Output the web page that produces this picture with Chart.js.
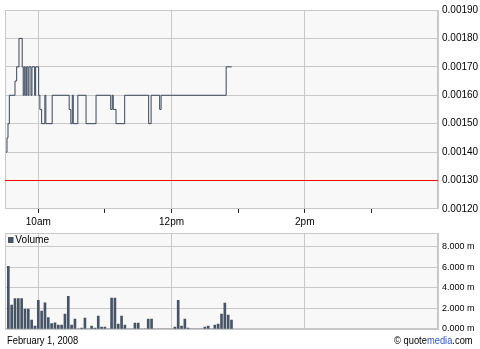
<!DOCTYPE html>
<html><head><meta charset="utf-8">
<script src="https://cdn.jsdelivr.net/npm/chart.js@4"></script>
<style>
html,body{margin:0;padding:0;background:#fff;width:480px;height:349px;overflow:hidden;font-family:"Liberation Sans",Arial,sans-serif;}
#c1{position:absolute;left:0;top:0;}
#c2{position:absolute;left:0;top:224px;}
.t{position:absolute;font-size:11px;color:#000;white-space:nowrap;line-height:11px;transform-origin:0 0;}
</style></head><body>
<canvas id="c1" width="480" height="228"></canvas>
<canvas id="c2" width="480" height="125"></canvas>
<div class="t" style="left:8px;top:234px;transform:scaleX(0.92)"><span style="display:inline-block;width:6px;height:6px;background:#475466;margin-right:2px;vertical-align:0px"></span>Volume</div>
<div class="t" style="left:7px;top:335px;transform:scaleX(0.85)">February 1, 2008</div>
<div class="t" style="left:394px;top:335px;transform:scaleX(0.85)">© quote<span style="color:#3355bb">media</span>.com</div>
<script>
// minutes since 9:30 where price changes, and the new price
const priceMinutes = [0.9,1.8,2.7,3.9,9.0,10.5,12.6,15.5,16.4,17.3,18.2,19.5,20.7,21.6,23.4,24.3,26.7,27.6,30.3,31.4,33.0,35.9,36.8,42.5,57.8,59.3,60.6,61.5,65.6,73.0,82.0,95.2,96.6,97.5,100.0,107.8,129.4,131.6,139.3,140.6,199.2,204.2];
const priceValues = [0.00140,0.00145,0.00150,0.00160,0.00165,0.00170,0.00180,0.00170,0.00160,0.00170,0.00160,0.00170,0.00160,0.00170,0.00160,0.00170,0.00160,0.00170,0.00160,0.00155,0.00150,0.00160,0.00150,0.00160,0.00155,0.00150,0.00160,0.00150,0.00160,0.00150,0.00160,0.00155,0.00160,0.00155,0.00150,0.00160,0.00150,0.00160,0.00155,0.00160,0.00170,0.00170];
const refLevel = 0.00130;
// volume (millions) per 3-minute interval, starting with the interval ending 9:33
const volumes = [6.1,2.32,2.97,2.97,2.97,1.94,1.94,0.87,0.29,2.8,1.74,2.55,1.1,0.52,0.61,0.39,0.39,1.45,3.19,0.39,0.97,0,0.1,1.06,0,0.29,0.1,1.26,0.19,0.19,0,3.0,3.0,0.48,1.26,0.39,0,0,0.58,0.58,0,0,0.97,0.97,0,0,0,0,0,0,0.19,2.8,0.29,0.97,0.1,0,0,0,0,0.19,0.29,0,0.39,0.48,1.45,2.52,1.35,0.87];
const hourTicks = [30,90,150,210,270,330];
const hourLabels = ['10am','','12pm','','2pm',''];
const majorHours = [30,150,270];
const priceTicks = [0.0012,0.0013,0.0014,0.0015,0.0016,0.0017,0.0018,0.0019];
const volTicks = [0,2,4,6,8];

const FAM = '"Liberation Sans",Arial,sans-serif';
const FONT = {family:FAM, size:10};
const VFONT = {family:FAM, size:9};
const GRID = '#c8c8c8';
const bgPlugin = {
  id:'bg',
  beforeDraw(chart){
    const {ctx, chartArea:a} = chart;
    ctx.save(); ctx.fillStyle = '#f8f8f8';
    ctx.fillRect(a.left, a.top, a.right-a.left, a.bottom-a.top); ctx.restore();
  },
  beforeDatasetsDraw(chart){
    const {ctx, chartArea:a} = chart;
    ctx.save(); ctx.strokeStyle = GRID; ctx.lineWidth = 1;
    ctx.strokeRect(Math.round(a.left)+0.5, Math.round(a.top)+0.5, Math.round(a.right-a.left)-1, Math.round(a.bottom-a.top)-1);
    ctx.restore();
  }
};
const xGridColor = c => (c.tick && majorHours.includes(c.tick.value)) ? GRID : 'rgba(0,0,0,0)';

new Chart(document.getElementById('c1'), {
  type:'line',
  data:{datasets:[
    {data: priceMinutes.map((m,i)=>({x:m, y:priceValues[i]})), stepped:'before', borderColor:'#3a475a', borderWidth:1, pointRadius:0, fill:false},
    {data:[{x:0,y:refLevel},{x:390,y:refLevel}], borderColor:'#ff0000', borderWidth:1, pointRadius:0, fill:false}
  ]},
  options:{
    responsive:false, animation:false, events:[],
    layout:{padding:{left:5, top:10, right:0, bottom:0}},
    plugins:{legend:{display:false}, tooltip:{enabled:false}},
    scales:{
      x:{type:'linear', min:0, max:390,
        afterBuildTicks: s => { s.ticks = hourTicks.map(v=>({value:v})); },
        afterFit: s => { s.height = 19.08; },
        ticks:{callback:(v,i)=>hourLabels[i], font:FONT, color:'#000', padding:3, maxRotation:0, autoSkip:false},
        grid:{color:xGridColor, tickColor:'#222', tickLength:4, drawTicks:true},
        border:{color:GRID}},
      y:{position:'right', min:0.0012, max:0.0019,
        afterBuildTicks: s => { s.ticks = priceTicks.map(v=>({value:v})); },
        afterFit: s => { s.width = 42; },
        ticks:{callback:v=>v.toFixed(5), font:FONT, color:'#000', padding:4},
        grid:{color:GRID, drawTicks:false},
        border:{color:GRID}}
    }
  },
  plugins:[bgPlugin]
});

new Chart(document.getElementById('c2'), {
  type:'bar',
  data:{datasets:[
    {data: volumes.map((v,i)=>({x:3*(i+1), y:v})), backgroundColor:'#475466', barThickness:2}
  ]},
  options:{
    responsive:false, animation:false, events:[],
    layout:{padding:{left:5, top:8, right:0, bottom:0}},
    plugins:{legend:{display:false}, tooltip:{enabled:false}},
    scales:{
      x:{type:'linear', min:0, max:390, offset:false,
        afterBuildTicks: s => { s.ticks = hourTicks.map(v=>({value:v})); },
        afterFit: s => { s.height = 20; },
        ticks:{display:false},
        grid:{color:xGridColor, drawTicks:false, offset:false},
        border:{color:GRID}},
      y:{position:'right', min:0, max:9.3,
        afterBuildTicks: s => { s.ticks = volTicks.map(v=>({value:v})); },
        afterFit: s => { s.width = 42; },
        ticks:{callback:v=>v.toFixed(3)+' m', font:VFONT, color:'#000', padding:4},
        grid:{color:GRID, drawTicks:false},
        border:{color:GRID}}
    }
  },
  plugins:[bgPlugin]
});
</script>
</body></html>
